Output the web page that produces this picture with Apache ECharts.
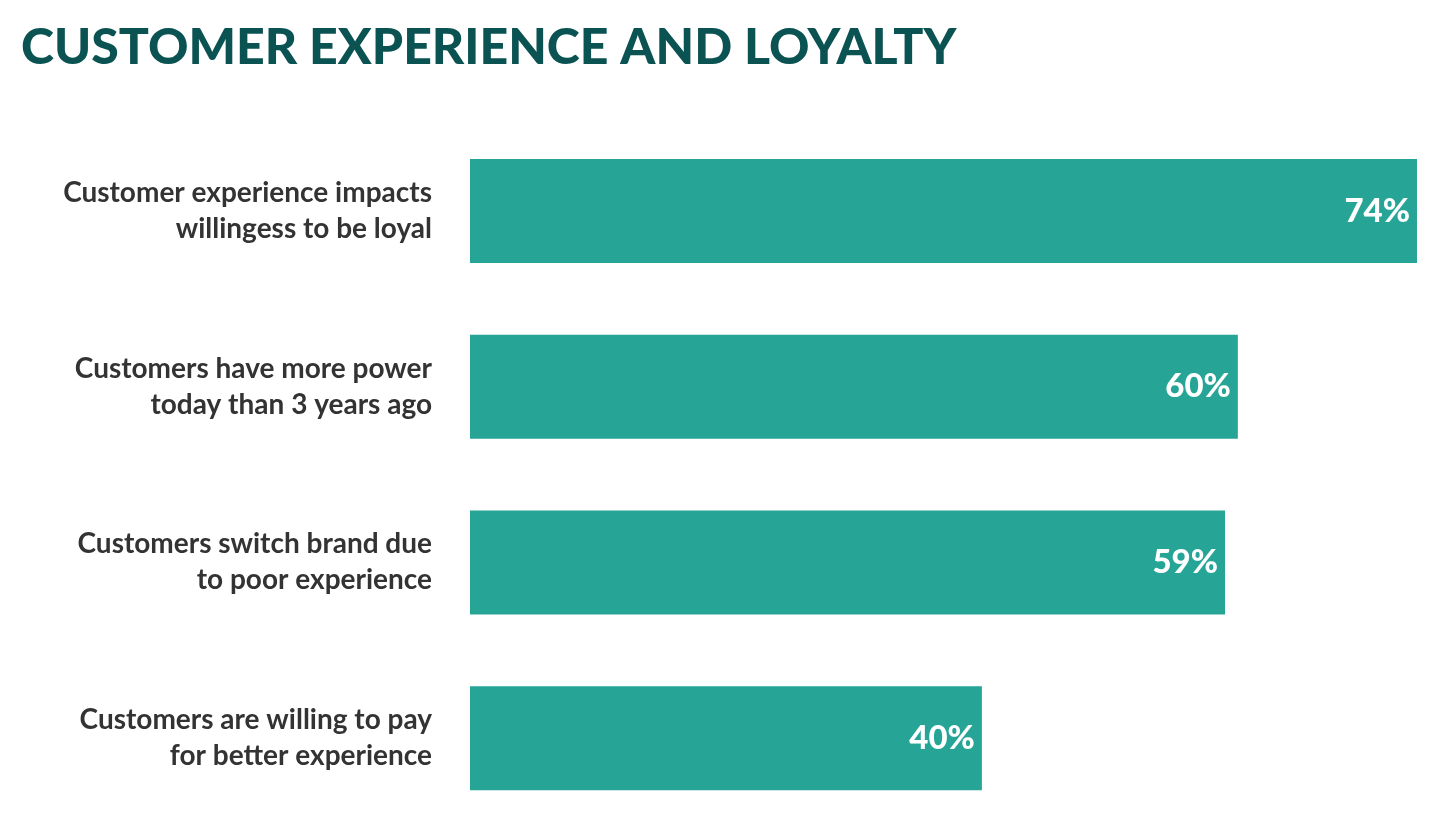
<!DOCTYPE html>
<html><head><meta charset="utf-8">
<script src="https://cdn.jsdelivr.net/npm/echarts@6/dist/echarts.min.js"></script>
<style>html,body{margin:0;background:#fff}#c{width:1444px;height:838px}</style>
</head><body><div id="c"></div>
<script>
var categories = [
  'Customer experience impacts\nwillingess to be loyal',
  'Customers have more power\ntoday than 3 years ago',
  'Customers switch brand due\nto poor experience',
  'Customers are willing to pay\nfor better experience'
];
var values = [74, 60, 59, 40];

var chart = echarts.init(document.getElementById('c'));
chart.setOption({
  animation: false,
  title: {
    text: 'CUSTOMER EXPERIENCE AND LOYALTY',
    left: 16, top: 18,
    textStyle: { fontFamily: 'Lato', fontWeight: 900, fontSize: 50, color: '#0b5252' }
  },
  grid: { left: 470, right: 27, top: 123, bottom: 12 },
  xAxis: { type: 'value', min: 0, max: 74, show: false },
  yAxis: {
    type: 'category', inverse: true, data: categories,
    axisLine: { show: false }, axisTick: { show: false },
    axisLabel: {
      margin: 38, align: 'right', lineHeight: 36,
      fontFamily: 'Lato', fontWeight: 'bold', fontSize: 28, color: '#333'
    }
  },
  series: [{
    type: 'bar', data: values, barWidth: 104,
    itemStyle: { color: '#26a597' },
    label: {
      show: true, position: 'insideRight', offset: [-2, 0],
      formatter: '{c}%', color: '#fff',
      fontFamily: 'Lato', fontWeight: 900, fontSize: 33
    }
  }]
});
</script></body></html>
